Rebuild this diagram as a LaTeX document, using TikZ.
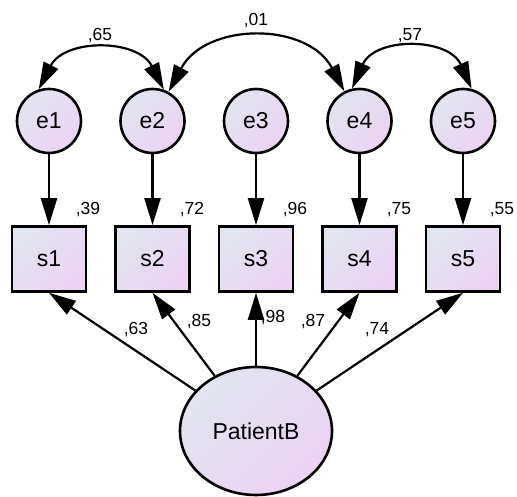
\documentclass[tikz,border=0pt]{standalone}
\usepackage{fontspec}
\setmainfont{Liberation Sans}
\usetikzlibrary{shapes.geometric,arrows.meta}
\definecolor{fillA}{HTML}{E1E5EF}
\definecolor{fillB}{HTML}{ECD3F3}
\tikzset{
  grad/.style={top color=fillA, bottom color=fillB, shading angle=45, draw=black, line width=2.6pt},
  errnode/.style={grad, circle, minimum size=64pt, inner sep=0pt, font=\fontsize{23}{27}\selectfont},
  obsnode/.style={grad, rectangle, minimum width=74pt, minimum height=65pt, inner sep=0pt, font=\fontsize{23}{27}\selectfont},
  latnode/.style={grad, ellipse, minimum width=152pt, minimum height=128pt, inner sep=0pt, font=\fontsize{23}{27}\selectfont},
  arr/.style={line width=2.2pt, -{Triangle[length=27pt,width=16pt]}},
  dblarr/.style={line width=2.2pt, {Triangle[length=27pt,width=16pt]}-{Triangle[length=27pt,width=16pt]}},
  lbl/.style={font=\fontsize{17.5}{20}\selectfont, inner sep=0pt}
}
\begin{document}
\begin{tikzpicture}[x=1pt,y=1pt]
\useasboundingbox (0,0) rectangle (517,497);
% error terms
\node[errnode] (e1) at (49,376) {e1};
\node[errnode] (e2) at (152.5,376) {e2};
\node[errnode] (e3) at (256,376) {e3};
\node[errnode] (e4) at (359.5,376) {e4};
\node[errnode] (e5) at (463,376) {e5};
% observed
\node[obsnode] (s1) at (49,238) {s1};
\node[obsnode] (s2) at (152.5,238) {s2};
\node[obsnode] (s3) at (256,238) {s3};
\node[obsnode] (s4) at (359.5,238) {s4};
\node[obsnode] (s5) at (463,238) {s5};
% latent
\node[latnode] (P) at (256,66) {PatientB};
% error paths
\foreach \i in {1,...,5}{\draw[arr] (e\i) -- (s\i);}
% loadings
\foreach \i in {1,...,5}{\draw[arr] (P) -- (s\i.south);}
% covariances
\draw[dblarr] (e1.108) to[out=63,in=117,looseness=1.17] (e2.70);
\draw[dblarr] (e2.61) to[out=62,in=118,looseness=1.15] (e4.117);
\draw[dblarr] (e4.103) to[out=66,in=114,looseness=1.21] (e5.75);
% covariance labels
\node[lbl] (c12) at (100,461) {,65};
\node[lbl] (c24) at (256,476) {,01};
\node[lbl] (c45) at (410,461) {,57};
% R^2 labels
\node[lbl] (r1) at (88,287) {,39};
\node[lbl] (r2) at (192,287) {,72};
\node[lbl] (r3) at (295,287) {,96};
\node[lbl] (r4) at (399,287) {,75};
\node[lbl] (r5) at (502,287) {,55};
% loading labels
\node[lbl] (l1) at (136,167) {,63};
\node[lbl] (l2) at (199,175) {,85};
\node[lbl] (l3) at (273,179) {,98};
\node[lbl] (l4) at (313,175) {,87};
\node[lbl] (l5) at (377,167) {,74};
\end{tikzpicture}
\end{document}
